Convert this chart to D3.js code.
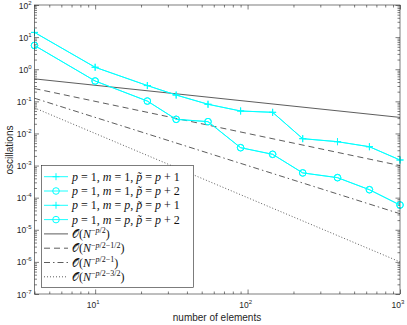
<!DOCTYPE html>
<html><head><meta charset="utf-8">
<script src="https://cdn.jsdelivr.net/npm/d3@7"></script>
<style>body{margin:0;background:#fff}svg{display:block}</style>
</head><body>
<svg id="c" width="407" height="325"></svg>
<script>
// ---- data ----
const N = [4, 10, 22, 34, 55, 90, 146, 230, 389, 630, 1000];
const osc_m1_p1 = [14, 1.15, 0.31, 0.157, 0.081, 0.050, 0.0455, 0.00687, 0.00554, 0.00386, 0.00149];
const osc_m1_p2 = [5.5, 0.43, 0.102, 0.0275, 0.0233, 0.0036, 0.00224, 5.9e-4, 4.2e-4, 1.77e-4, 5.9e-5];
const osc_mp_p1 = [14, 1.15, 0.31, 0.157, 0.081, 0.050, 0.0455, 0.00687, 0.00554, 0.00386, 0.00149];
const osc_mp_p2 = [5.5, 0.43, 0.102, 0.0275, 0.0233, 0.0036, 0.00224, 5.9e-4, 4.2e-4, 1.77e-4, 5.9e-5];
const refN = [4, 1000];
const ref_a = [0.5, 0.0316];
const ref_b = [0.25, 0.001];
const ref_c = [0.125, 3.16e-5];
const ref_d = [0.0625, 1e-6];
const xMajor = [10, 100, 1000];
const xExp = ["1", "2", "3"];
const yMajor = [1e-7, 1e-6, 1e-5, 1e-4, 1e-3, 1e-2, 1e-1, 1, 10, 100];
const yExp = ["-7", "-6", "-5", "-4", "-3", "-2", "-1", "0", "1", "2"];
const xLabel = "number of elements";
const yLabel = "oscillations";

const svg = d3.select("#c");
const L = 34.5, R = 400, T = 5, B = 294;
const x = d3.scaleLog().domain([4, 1000]).range([L, R]);
const y = d3.scaleLog().domain([1e-7, 1e2]).range([B, T]);
const axCol = "#262626";

// minor ticks
const xMinor = [];
[1, 10, 100].forEach(d => { for (let k = 2; k <= 9; k++) { const v = d * k; if (v >= 4 && v < 1000) xMinor.push(v); } });
const yMinor = [];
yMajor.slice(0, -1).forEach(d => { for (let k = 2; k <= 9; k++) yMinor.push(d * k); });

function styleAxis(g) {
  g.select(".domain").remove();
  g.selectAll("line").attr("stroke", axCol).attr("stroke-width", 0.6);
}
svg.append("g").attr("transform", `translate(0,${B})`).call(d3.axisBottom(x).tickValues(xMajor).tickSize(-4.5).tickFormat("")).call(styleAxis);
svg.append("g").attr("transform", `translate(0,${B})`).call(d3.axisBottom(x).tickValues(xMinor).tickSize(-2.5).tickFormat("")).call(styleAxis);
svg.append("g").attr("transform", `translate(0,${T})`).call(d3.axisTop(x).tickValues(xMajor).tickSize(-4.5).tickFormat("")).call(styleAxis);
svg.append("g").attr("transform", `translate(0,${T})`).call(d3.axisTop(x).tickValues(xMinor).tickSize(-2.5).tickFormat("")).call(styleAxis);
svg.append("g").attr("transform", `translate(${L},0)`).call(d3.axisLeft(y).tickValues(yMajor).tickSize(-4.5).tickFormat("")).call(styleAxis);
svg.append("g").attr("transform", `translate(${L},0)`).call(d3.axisLeft(y).tickValues(yMinor).tickSize(-2.5).tickFormat("")).call(styleAxis);
svg.append("g").attr("transform", `translate(${R},0)`).call(d3.axisRight(y).tickValues(yMajor).tickSize(-4.5).tickFormat("")).call(styleAxis);
svg.append("g").attr("transform", `translate(${R},0)`).call(d3.axisRight(y).tickValues(yMinor).tickSize(-2.5).tickFormat("")).call(styleAxis);

// tick labels
const tf = "Liberation Sans, Arial, sans-serif";
xMajor.forEach((v, i) => {
  const t = svg.append("text").attr("x", x(v) - 2).attr("y", 307.5).attr("text-anchor", "middle")
    .attr("font-family", tf).attr("font-size", 8.5).attr("fill", axCol);
  t.append("tspan").text("10");
  t.append("tspan").attr("dy", -4).attr("font-size", 6).text(xExp[i]);
});
yMajor.forEach((v, i) => {
  const t = svg.append("text").attr("x", 31.5).attr("y", y(v) + 3.5).attr("text-anchor", "end")
    .attr("font-family", tf).attr("font-size", 8.5).attr("fill", axCol);
  t.append("tspan").text("10");
  t.append("tspan").attr("dy", -4).attr("font-size", 6).text(yExp[i]);
});
svg.append("text").attr("x", 217).attr("y", 321).attr("text-anchor", "middle")
  .attr("font-family", tf).attr("font-size", 10).attr("fill", axCol).text(xLabel);
svg.append("text").attr("transform", "translate(13,150) rotate(-90)").attr("text-anchor", "middle")
  .attr("font-family", tf).attr("font-size", 10).attr("fill", axCol).text(yLabel);

// reference lines
const line = d3.line().x(d => x(d[0])).y(d => y(d[1]));
const refs = [
  { v: ref_a, dash: null },
  { v: ref_b, dash: "6,4" },
  { v: ref_c, dash: "6,3,1.5,3" },
  { v: ref_d, dash: "1,2" }
];
const refCol = "#333";
refs.forEach(r => {
  svg.append("path").datum(refN.map((n, i) => [n, r.v[i]])).attr("d", line)
    .attr("fill", "none").attr("stroke", refCol).attr("stroke-width", 0.8)
    .attr("stroke-dasharray", r.dash);
});

// data series
const cyan = "#00ffff";
const series = [
  { v: osc_m1_p1, mk: "plus" }, { v: osc_m1_p2, mk: "circle" },
  { v: osc_mp_p1, mk: "plus" }, { v: osc_mp_p2, mk: "circle" }
];
function marker(g, type, cx, cy) {
  if (type === "plus") {
    g.append("path").attr("d", `M${cx - 3.5},${cy}H${cx + 3.5}M${cx},${cy - 3.5}V${cy + 3.5}`)
      .attr("stroke", cyan).attr("stroke-width", 1).attr("fill", "none");
  } else {
    g.append("circle").attr("cx", cx).attr("cy", cy).attr("r", 3.3)
      .attr("stroke", cyan).attr("stroke-width", 1).attr("fill", "none");
  }
}
series.forEach(s => {
  const pts = N.map((n, i) => [n, s.v[i]]);
  svg.append("path").datum(pts).attr("d", line).attr("fill", "none")
    .attr("stroke", cyan).attr("stroke-width", 0.9);
  const g = svg.append("g");
  pts.forEach(p => marker(g, s.mk, x(p[0]), y(p[1])));
});

// box
svg.append("rect").attr("x", L).attr("y", T).attr("width", R - L).attr("height", B - T)
  .attr("fill", "none").attr("stroke", axCol).attr("stroke-width", 0.6);

// legend
const lg = svg.append("g");
lg.append("rect").attr("x", 41.5).attr("y", 165.5).attr("width", 152).attr("height", 122)
  .attr("fill", "#fff").attr("stroke", axCol).attr("stroke-width", 0.6);
const sf = "Liberation Serif, Times New Roman, serif";
const legItems = [
  { kind: "s", mk: "plus", m: "1", pp: "1" },
  { kind: "s", mk: "circle", m: "1", pp: "2" },
  { kind: "s", mk: "plus", m: "p", pp: "1" },
  { kind: "s", mk: "circle", m: "p", pp: "2" },
  { kind: "r", dash: null, ex: "\u2212p/2" },
  { kind: "r", dash: "6,4", ex: "\u2212p/2\u22121/2" },
  { kind: "r", dash: "6,3,1.5,3", ex: "\u2212p/2\u22121" },
  { kind: "r", dash: "1,2", ex: "\u2212p/2\u22123/2" }
];
legItems.forEach((it, i) => {
  const cy = 176.7 + i * 14.3;
  if (it.kind === "s") {
    lg.append("line").attr("x1", 44).attr("x2", 68).attr("y1", cy).attr("y2", cy)
      .attr("stroke", cyan).attr("stroke-width", 0.9);
    marker(lg, it.mk, 56, cy);
    const t = lg.append("text").attr("x", 72).attr("y", cy + 4).attr("font-family", sf)
      .attr("font-size", 12).attr("fill", "#111");
    const it_ = (s) => t.append("tspan").attr("font-style", "italic").text(s);
    const up = (s) => t.append("tspan").attr("font-style", "normal").text(s);
    it_("p"); up(" = 1, "); it_("m"); up(" = ");
    if (it.m === "p") it_("p"); else up("1");
    up(", "); it_("p\u0303"); up(" = "); it_("p"); up(" + " + it.pp);
  } else {
    lg.append("line").attr("x1", 44).attr("x2", 68).attr("y1", cy).attr("y2", cy)
      .attr("stroke", refCol).attr("stroke-width", 0.8).attr("stroke-dasharray", it.dash);
    const t = lg.append("text").attr("x", 72).attr("y", cy + 4).attr("font-family", sf)
      .attr("font-size", 12).attr("fill", "#111");
    t.append("tspan").attr("font-family", "DejaVu Sans, serif").attr("font-size", 11).text("\u{1D4AA}");
    t.append("tspan").text("(");
    t.append("tspan").attr("font-style", "italic").text("N");
    const parts = it.ex.split("");
    parts.forEach((ch, k) => {
      const ts = t.append("tspan").attr("font-size", 8).attr("font-style", ch === "p" ? "italic" : "normal").text(ch);
      if (k === 0) ts.attr("dy", -4.5);
    });
    t.append("tspan").attr("dy", 4.5).text(")");
  }
});
</script>
</body></html>
